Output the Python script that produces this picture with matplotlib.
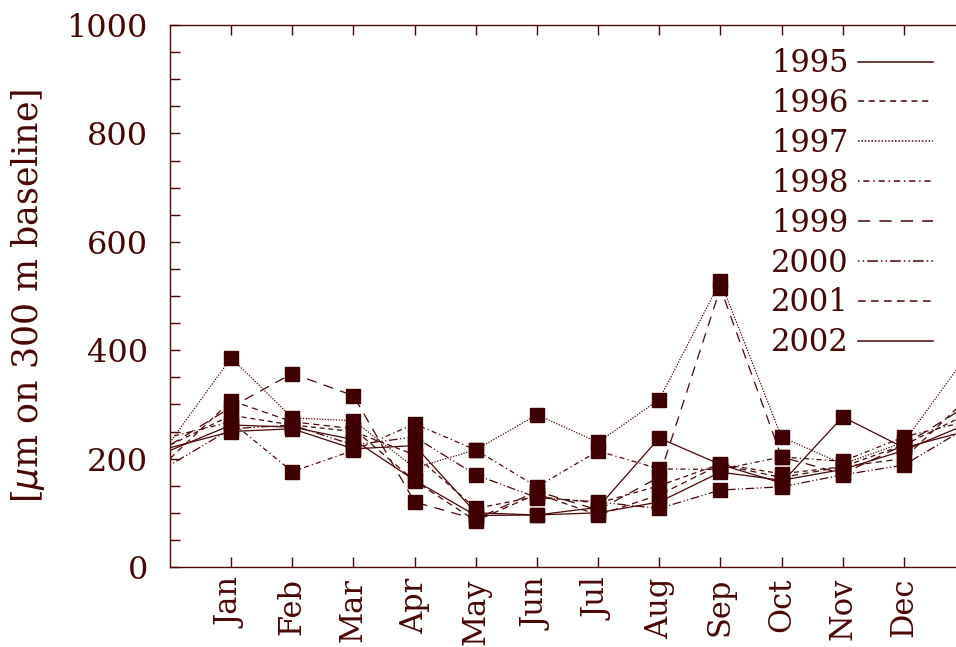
import numpy as np
import matplotlib
matplotlib.use("Agg")
import matplotlib.pyplot as plt
from matplotlib.lines import Line2D

# ── Monthly values (um on 300 m baseline) ───────────────────────────────────
months = ['Jan', 'Feb', 'Mar', 'Apr', 'May', 'Jun',
          'Jul', 'Aug', 'Sep', 'Oct', 'Nov', 'Dec']

years = ['1995', '1996', '1997', '1998', '1999', '2000', '2001', '2002']

v1995 = [262, 258, 235, 160, 95, 96, 100, 120, 175, 160, 180, 215]
v1996 = [280, 262, 250, 207, 108, 130, 118, 150, 190, 172, 185, 225]
v1997 = [386, 275, 270, 183, 216, 281, 230, 309, 527, 240, 190, 230]
v1998 = [268, 176, 215, 264, 216, 148, 214, 181, 180, 203, 195, 240]
v1999 = [295, 357, 316, 120, 88, 140, 105, 166, 515, 203, 172, 225]
v2000 = [255, 262, 225, 240, 170, 128, 120, 108, 142, 148, 170, 188]
v2001 = [307, 268, 255, 159, 85, 135, 96, 133, 189, 165, 185, 200]
v2002 = [250, 255, 218, 224, 100, 96, 110, 238, 189, 155, 277, 220]

series = [v1995, v1996, v1997, v1998, v1999, v2000, v2001, v2002]

# gnuplot-ish dash patterns, one per year
dashes = [
    (None, None),
    (0, (4, 3)),
    (0, (1, 1.2)),
    (0, (1, 2.5, 4, 2.5)),
    (0, (8, 6)),
    (0, (1, 2, 1, 2, 7, 2)),
    (0, (5, 3.5)),
    (None, None),
]

COL = '#4a0505'
plt.rcParams['font.family'] = ['DejaVu Serif']
FS = 23

fig = plt.figure(figsize=(9.56, 6.47), dpi=100)
# right edge of the axes lies past the figure edge (cropped like the original)
ax = fig.add_axes([170 / 956, 1 - 567 / 647, 795 / 956, (567 - 25) / 647])

x = np.arange(0, 14)   # Dec(prev) .. Jan(next), wrapped
handles = []
for yr, vals, ls in zip(years, series, dashes):
    v = np.r_[vals[-1], vals, vals[0]]
    style = '-' if ls[0] is None else ls
    ax.plot(x, v, color=COL, lw=0.9, linestyle=style)
    ax.plot(np.arange(1, 13), vals, linestyle='none', marker='s',
            ms=10, mfc='#3e0000', mec='#3e0000')
    handles.append(Line2D([], [], color=COL, lw=1.1, linestyle=style))

ax.set_xlim(0, 13)
ax.set_ylim(0, 1000)
ax.set_xticks(np.arange(1, 13))
ax.set_xticklabels(months, rotation=90, fontsize=FS - 1, color=COL)
ax.set_yticks(np.arange(0, 1001, 200))
ax.set_yticks(np.arange(0, 1001, 50), minor=True)
ax.tick_params(axis='y', labelsize=FS, labelcolor=COL, pad=16)
ax.tick_params(axis='x', pad=8)
ax.tick_params(which='both', direction='in', color=COL, length=7, width=1,
               top=True, right=False)
ax.tick_params(axis='x', which='minor', bottom=False, top=False)
for s in ax.spines.values():
    s.set_color(COL)
    s.set_linewidth(1)

ax.set_ylabel(r'[$\mu$m on 300 m baseline]', fontsize=FS + 2, color=COL,
              labelpad=14)

leg = ax.legend(handles, years, loc='upper right', frameon=False,
                markerfirst=False, fontsize=FS - 1, handlelength=2.45,
                handletextpad=0.3, labelspacing=0.29,
                bbox_to_anchor=(945 / 956, 1 - 36 / 647),
                bbox_transform=fig.transFigure, borderaxespad=0)
for t in leg.get_texts():
    t.set_color(COL)

fig.savefig('out.png', dpi=100)
